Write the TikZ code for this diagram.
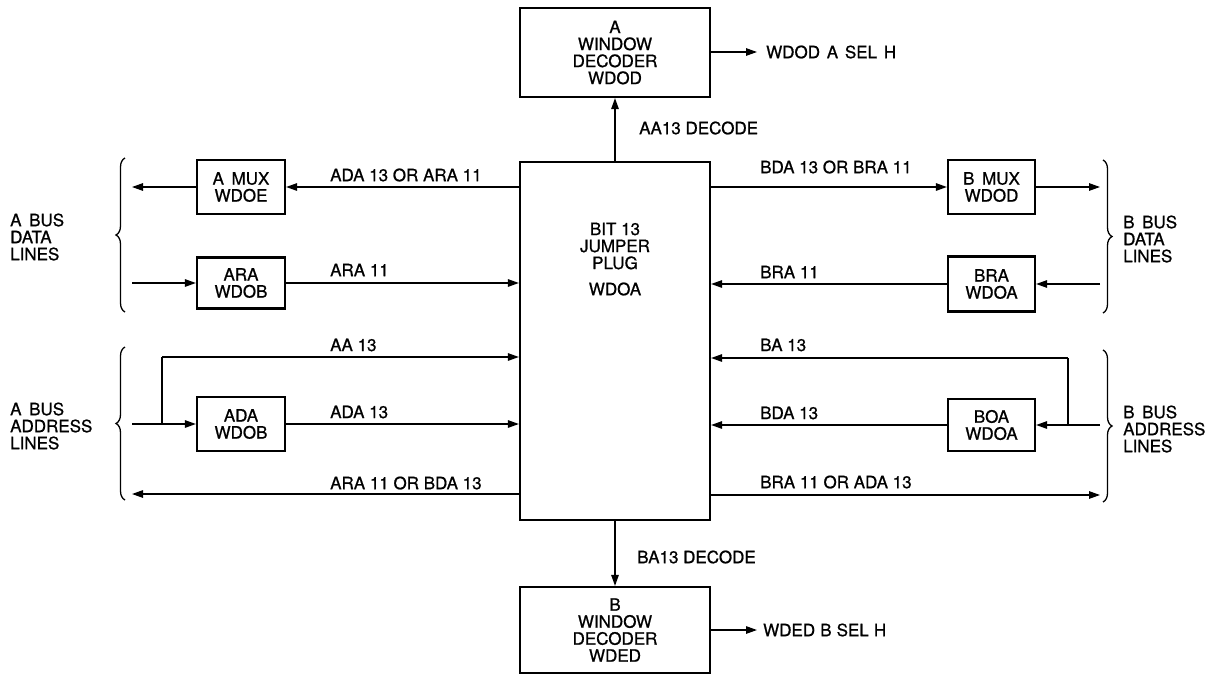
\documentclass[tikz,border=0pt]{standalone}
\usepackage{fontspec}
\setmainfont{TeX Gyre Heros}[FakeBold=0.8]
\usetikzlibrary{arrows.meta,decorations.pathreplacing}
\begin{document}
\begin{tikzpicture}[x=1pt,y=-1pt,
  every node/.style={font=\fontsize{17}{17}\selectfont, inner sep=0pt},
  blk/.style={draw, line width=2.2pt, align=center},
  conn/.style={line width=1.3pt},
  arr/.style={conn, -{Triangle[length=11pt,width=7.5pt]}},
  lbl/.style={anchor=west},
  side/.style={anchor=west, align=left},
  brc/.style={decorate, decoration={brace, amplitude=9pt}, line width=1.3pt}]
\useasboundingbox (0,0) rectangle (1207,675);
% blocks
\node[blk, minimum width=190pt, minimum height=89pt] (top) at (615,52.5) {A\\WINDOW\\DECODER\\WDOD};
\node[blk, minimum width=190pt, minimum height=358pt] (jp) at (615,341) {};
\node[align=center] (jptxt) at (615,246) {BIT 13\\JUMPER\\PLUG};
\node (jpw) at (615,289) {WDOA};
\node[blk, minimum width=190pt, minimum height=86pt] (bot) at (615,630) {B\\WINDOW\\DECODER\\WDED};
\node[blk, minimum width=88pt, minimum height=54pt] (amux) at (241,187) {A\hspace{0.45em}MUX\\WDOE};
\node[blk, minimum width=88pt, minimum height=51pt] (ara) at (241,283) {ARA\\WDOB};
\node[blk, minimum width=88pt, minimum height=54pt] (ada) at (241,424) {ADA\\WDOB};
\node[blk, minimum width=87pt, minimum height=54pt] (bmux) at (991.5,187) {B\hspace{0.45em}MUX\\WDOD};
\node[blk, minimum width=87pt, minimum height=55pt] (bra) at (991.5,284) {BRA\\WDOA};
\node[blk, minimum width=87pt, minimum height=52pt] (boa) at (991.5,425) {BOA\\WDOA};
% free ends
\coordinate (aL1) at (132,187);
\coordinate (aL2) at (132,283);
\coordinate (aL3) at (132,424);
\coordinate (aJ) at (162,424);
\coordinate (aT) at (162,357);
\coordinate (aL5) at (132,494);
\coordinate (bR1) at (1100,187);
\coordinate (bR2) at (1100,284);
\coordinate (bR3) at (1100,425);
\coordinate (bJ) at (1068,425);
\coordinate (bT) at (1068,358);
\coordinate (bR5) at (1100,495);
\coordinate (topout) at (757,52);
\coordinate (botout) at (757,630);
% top / bottom
\draw[arr] (jp.north) -- (top.south);
\draw[arr] (jp.south) -- (bot.north);
\draw[arr] (top.east |- topout) -- (topout);
\draw[arr] (bot.east |- botout) -- (botout);
\node[lbl] (topo) at (766,52) {WDOD\hspace{0.4em}A\hspace{0.4em}SEL\hspace{0.4em}H};
\node[lbl] (boto) at (763,630) {WDED\hspace{0.3em}B\hspace{0.3em}SEL\hspace{0.3em}H};
\node[lbl] (aadec) at (639,128) {AA13 DECODE};
\node[lbl] (badec) at (637,557) {BA13 DECODE};
% left side
\draw[arr] (jp.west |- amux.east) -- (amux.east);
\draw[arr] (amux.west) -- (aL1);
\draw[arr] (aL2) -- (ara.west);
\draw[arr] (ara.east) -- (jp.west |- ara.east);
\draw[arr] (aL3) -- (ada.west);
\draw[conn] (aJ) -- (aT);
\draw[arr] (aT) -- (jp.west |- aT);
\draw[arr] (ada.east) -- (jp.west |- ada.east);
\draw[arr] (jp.west |- aL5) -- (aL5);
\node[lbl] (l1) at (330,175) {ADA 13 OR ARA 11};
\node[lbl] (l2) at (330,270) {ARA 11};
\node[lbl] (l3) at (330,345) {AA 13};
\node[lbl] (l4) at (330,412) {ADA 13};
\node[lbl] (l5) at (330,483) {ARA 11 OR BDA 13};
% right side
\draw[arr] (jp.east |- bmux.west) -- (bmux.west);
\draw[arr] (bmux.east) -- (bR1);
\draw[arr] (bR2) -- (bra.east);
\draw[arr] (bra.west) -- (jp.east |- bra.west);
\draw[arr] (bR3) -- (boa.east);
\draw[conn] (bJ) -- (bT);
\draw[arr] (bT) -- (jp.east |- bT);
\draw[arr] (boa.west) -- (jp.east |- boa.west);
\draw[arr] (jp.east |- bR5) -- (bR5);
\node[lbl] (r1) at (760,167) {BDA 13 OR BRA 11};
\node[lbl] (r2) at (760,272) {BRA 11};
\node[lbl] (r3) at (760,345) {BA 13};
\node[lbl] (r4) at (760,413) {BDA 13};
\node[lbl] (r5) at (760,482) {BRA 11 OR ADA 13};
% braces
\draw[brc] (125,312) -- (125,158);
\draw[brc] (125,500) -- (125,347);
\draw[brc] (1103,160) -- (1103,313);
\draw[brc] (1103,350) -- (1103,502);
\node[side] (adl) at (10,237) {A\hspace{0.45em}BUS\\DATA\\LINES};
\node[side] (aal) at (10,426) {A\hspace{0.45em}BUS\\ADDRESS\\LINES};
\node[side] (bdl) at (1123,239) {B\hspace{0.45em}BUS\\DATA\\LINES};
\node[side] (bal) at (1123,429) {B\hspace{0.45em}BUS\\ADDRESS\\LINES};
\end{tikzpicture}
\end{document}
